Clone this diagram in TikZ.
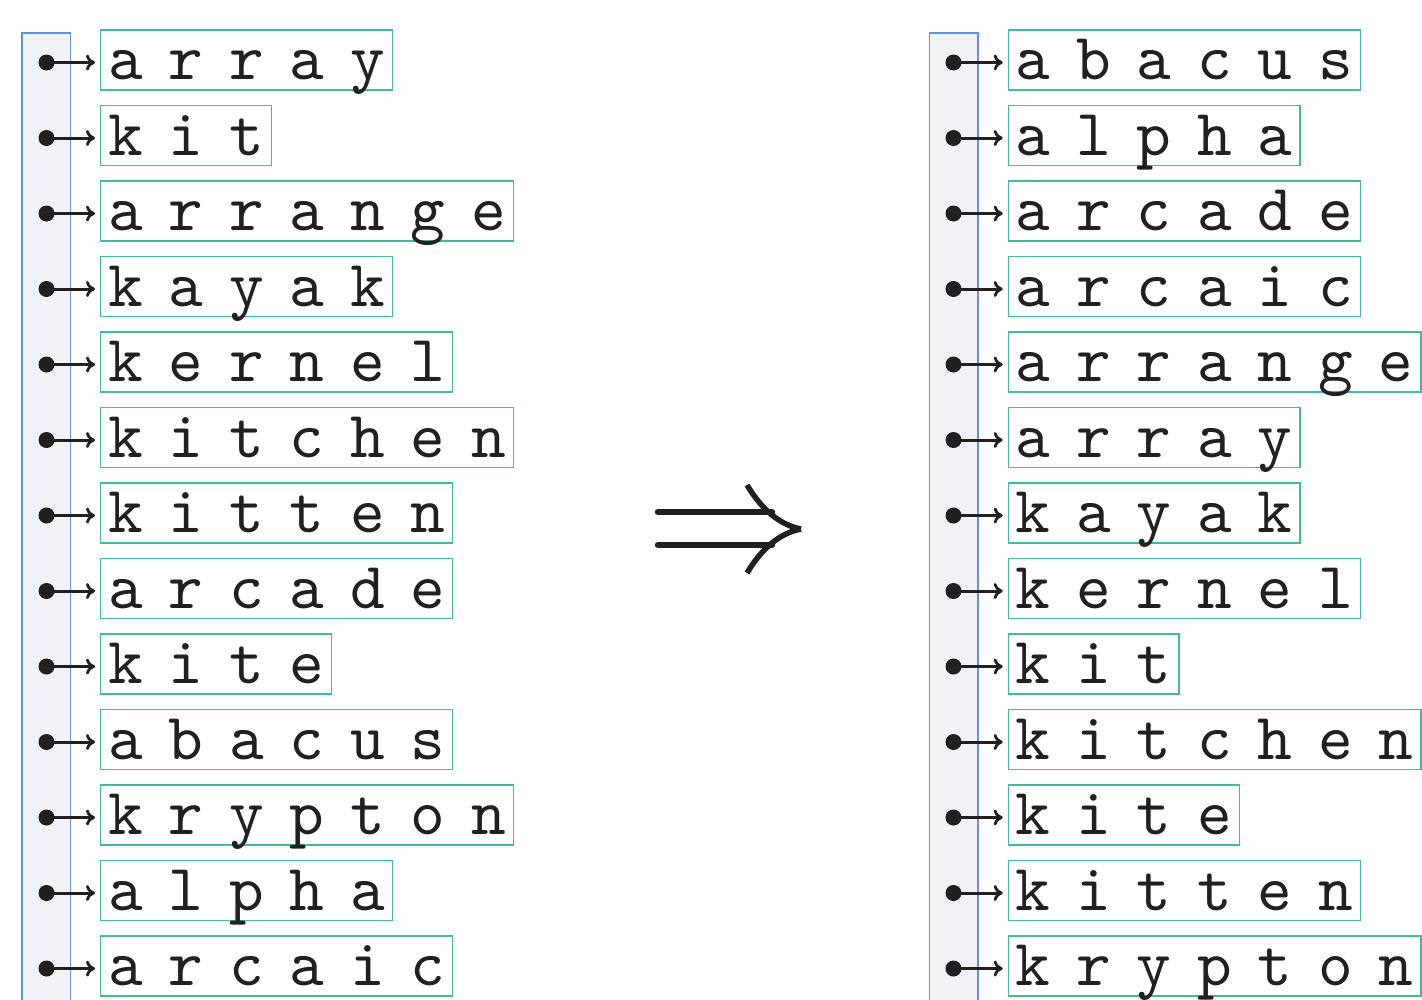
\documentclass[tikz,border=0pt]{standalone}
\usepackage{fontspec}
\newfontfamily\wordfont{lmmono10-regular.otf}
\usetikzlibrary{arrows.meta}
\definecolor{boxteal}{RGB}{66,186,160}
\definecolor{stripline}{RGB}{100,146,212}
\definecolor{stripfill}{RGB}{240,242,248}
\definecolor{ink}{RGB}{34,31,32}
\makeatletter
\def\spreadword#1{\spread@a#1\relax}
\def\spread@a#1{\ifx#1\relax\else\makebox[60.5pt]{#1}\expandafter\spread@a\fi}
\makeatother
\tikzset{
  strip/.style={draw=stripline, fill=stripfill, line width=1.3pt},
  wordbox/.style={draw=boxteal, line width=1.4pt, anchor=west, inner xsep=-5.5pt, inner ysep=0pt,
    text height=49.5pt, text depth=10.5pt, text=ink,
    font=\fontsize{66pt}{70pt}\selectfont\wordfont},
  ptr/.style={draw=ink, line width=3pt, -{Computer Modern Rightarrow[length=9pt,width=16pt,line width=2.8pt]}, shorten >=5pt},
  dotmark/.style={fill=ink},
  bigarrow/.style={draw=ink, line width=6.5pt, line cap=round},
  barb/.style={draw=ink, line width=5.5pt}
}
\begin{document}
\begin{tikzpicture}[x=1pt,y=-1pt]
\useasboundingbox (0,0) rectangle (1422,999);
\clip (0,0) rectangle (1422,999);
% strips
\draw[strip] (22,33) rectangle (70.7,1020);
\draw[strip] (929.3,33) rectangle (978,1020);
% left column
\foreach \w [count=\i] in {array, kit, arrange, kayak, kernel, kitchen, kitten, arcade, kite, abacus, krypton, alpha, arcaic}{
  \coordinate (ldot\i) at (46.5, {62.5+75.5*(\i-1)});
  \node[wordbox] (l\i) at (100, {60+75.5*(\i-1)}) {\expandafter\spreadword\expandafter{\w}};
  \fill[dotmark] (ldot\i) circle (8);
  \draw[ptr] (ldot\i) -- (ldot\i -| l\i.west);
}
% right column
\foreach \w [count=\i] in {abacus, alpha, arcade, arcaic, arrange, array, kayak, kernel, kit, kitchen, kite, kitten, krypton}{
  \coordinate (rdot\i) at (953.5, {62.5+75.5*(\i-1)});
  \node[wordbox] (r\i) at (1007.7, {60+75.5*(\i-1)}) {\expandafter\spreadword\expandafter{\w}};
  \fill[dotmark] (rdot\i) circle (8);
  \draw[ptr] (rdot\i) -- (rdot\i -| r\i.west);
}
% implies arrow
\coordinate (ia) at (658,512);
\coordinate (ib) at (658,545);
\coordinate (tip) at (801,529);
\draw[bigarrow] (ia) -- (772,512);
\draw[bigarrow] (ib) -- (772,545);
\draw[barb] (747,485) .. controls (762,510) and (780,525) .. (tip);
\draw[barb] (747,573) .. controls (762,548) and (780,533) .. (tip);
\end{tikzpicture}
\end{document}
